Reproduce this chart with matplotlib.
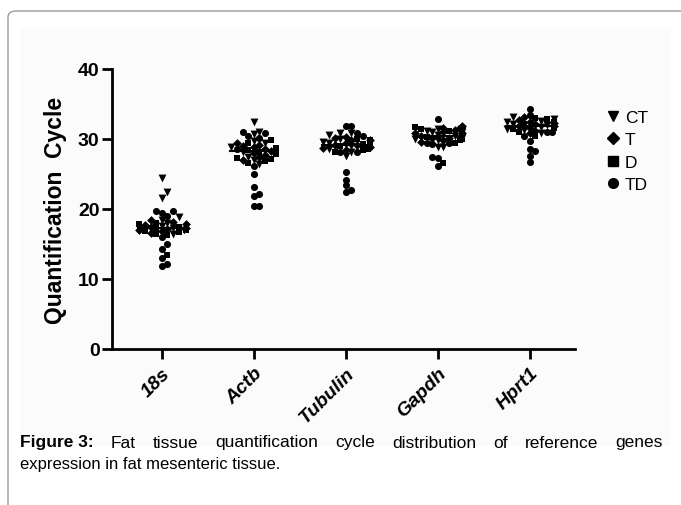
import matplotlib
import matplotlib.pyplot as plt
import numpy as np
from matplotlib.patches import FancyBboxPatch, Rectangle
from matplotlib.lines import Line2D

matplotlib.use('Agg')
plt.rcParams['font.family'] = ['Liberation Sans', 'DejaVu Sans']

genes = ["18s", "Actb", "Tubulin", "Gapdh", "Hprt1"]
groups = ["CT", "T", "D", "TD"]
markers = {"CT": "v", "T": "D", "D": "s", "TD": "o"}
msizes = {"CT": 32, "T": 20, "D": 22, "TD": 26}

# Cq values, per gene and group
ct_vals = [
    [24.5, 22.4, 21.6, 18.5, 18.0, 17.6, 17.3, 17.0, 16.5, 18.8],
    [32.4, 31.0, 30.7, 29.5, 29.7, 28.1, 28.8, 27.5, 26.5, 27.0],
    [30.9, 30.6, 30.9, 30.0, 29.5, 29.0, 28.1, 27.6, 29.6, 28.6],
    [31.5, 31.0, 30.7, 30.4, 30.0, 29.8, 28.9, 28.9, 31.2, 30.6],
    [33.2, 32.8, 32.4, 32.0, 31.7, 31.3, 30.9, 32.6, 31.5, 32.2],
]
t_vals = [
    [18.2, 17.9, 17.7, 17.5, 17.3, 17.1, 16.8, 18.4, 17.0, 16.6],
    [29.5, 29.0, 28.6, 28.3, 28.0, 27.7, 27.4, 27.0, 28.9, 29.2],
    [30.1, 29.8, 29.4, 29.1, 28.8, 28.5, 29.9, 29.2, 28.7, 30.3],
    [31.8, 31.3, 30.9, 30.5, 30.2, 29.9, 29.6, 31.6, 30.8, 30.1],
    [33.1, 32.7, 32.3, 31.9, 31.6, 31.2, 30.8, 32.5, 31.8, 32.1],
]
d_vals = [
    [17.5, 17.2, 16.7, 16.4, 18.0, 17.8, 16.3, 13.5, 17.0, 16.9],
    [29.8, 28.7, 28.2, 27.8, 27.3, 26.9, 26.6, 28.4, 29.4, 27.1],
    [29.7, 29.3, 28.9, 28.4, 30.0, 29.0, 28.6, 29.5, 28.2, 29.8],
    [31.7, 31.1, 30.6, 30.3, 29.9, 29.5, 31.4, 30.8, 30.0, 26.6],
    [33.0, 32.5, 32.1, 31.8, 31.4, 31.0, 30.4, 32.9, 31.6, 32.3],
]
td_vals = [
    [19.7, 19.4, 19.7, 19.0, 16.0, 15.0, 14.3, 13.0, 11.9, 12.1],
    [30.9, 31.0, 30.1, 30.4, 26.1, 25.0, 23.1, 22.1, 21.9, 20.4, 20.4, 28.6],
    [31.9, 31.9, 30.9, 28.1, 28.1, 25.3, 24.2, 23.4, 22.7, 22.4, 30.4],
    [32.9, 31.6, 31.6, 29.4, 29.3, 29.4, 27.3, 26.1, 27.4, 30.7],
    [34.3, 33.4, 31.0, 30.4, 29.7, 28.6, 28.3, 27.6, 26.7, 31.0],
]
data = {"CT": ct_vals, "T": t_vals, "D": d_vals, "TD": td_vals}

fig = plt.figure(figsize=(6.81, 5.06), dpi=100)

# frame around the figure
frame = FancyBboxPatch((8 / 681, -0.1), 1.1, 1.1 - 12 / 506,
                       boxstyle="round,pad=0,rounding_size=0.012",
                       transform=fig.transFigure, fill=False,
                       edgecolor="#9a9a9a", linewidth=1.0, zorder=-2)
panel = Rectangle((20 / 681, 1 - 447 / 506), 650 / 681, 417 / 506,
                  transform=fig.transFigure, facecolor="#fbfbfb",
                  edgecolor="none", zorder=-3)
fig.patches.extend([panel, frame])

ax = fig.add_axes([112 / 681, 1 - 350 / 506, 463 / 681, 280 / 506])
ax.patch.set_alpha(0)
ax.set_ylim(0, 40)
ax.set_xlim(-0.54, 4.49)

# px per unit, used to lay points out as a swarm
px_x = 463 / 5.03
px_y = 7.0
d = 5.6
cap = 24
for gi, gene in enumerate(genes):
    pts = []
    for g in groups:
        for v in data[g][gi]:
            pts.append((v, g))
    pts.sort(key=lambda p: p[0])
    placed = []
    for v, g in pts:
        y = v * px_y
        k = 0
        while True:
            off = ((k + 1) // 2) * d * (1 if k % 2 else -1) if k else 0.0
            if all((off - ox) ** 2 + (y - oy) ** 2 >= d * d for ox, oy in placed) or abs(off) > cap:
                break
            k += 1
        off = max(-cap, min(cap, off))
        placed.append((off, y))
        ax.scatter(gi + off / px_x, v, marker=markers[g], s=msizes[g], color="black",
                   linewidths=0, zorder=3)
    med = np.median([p[0] for p in pts])
    ax.plot([gi - 24 / px_x, gi + 24 / px_x], [med, med], color="black", lw=1.5, zorder=4)

for s in ["top", "right"]:
    ax.spines[s].set_visible(False)
ax.spines["left"].set_linewidth(2)
ax.spines["bottom"].set_linewidth(2)
ax.set_yticks([0, 10, 20, 30, 40])
ax.set_xticks(range(len(genes)))
ax.set_xticklabels(genes, rotation=45, ha="right", rotation_mode="anchor",
                   fontsize=14, fontweight="bold", fontstyle="italic")
ax.tick_params(axis="y", width=2, length=7, labelsize=14, pad=2)
ax.tick_params(axis="x", width=2, length=7, pad=4)
for t in ax.get_yticklabels():
    t.set_fontweight("bold")
ax.set_ylabel("Quantification  Cycle", fontsize=16.5, fontweight="bold", labelpad=8)

handles = [Line2D([], [], marker=markers[g], color="black", linestyle="none",
                  markersize=7 if g != "T" else 6) for g in groups]
ax.legend(handles, groups, loc="upper left", bbox_to_anchor=(1.055, 0.88), frameon=False,
          fontsize=12.5, handlelength=0.6, handletextpad=0.4, labelspacing=0.42,
          borderaxespad=0)

# caption, first line justified
cap_y1 = 1 - 443 / 506
words = "Fat tissue quantification cycle distribution of reference genes".split()
fig.canvas.draw()
r = fig.canvas.get_renderer()
arts = [fig.text(0, cap_y1, "Figure 3:", fontsize=12.5, fontweight="bold", va="center")]
arts += [fig.text(0, cap_y1, w, fontsize=12.5, va="center") for w in words]
widths = [a.get_window_extent(r).width / 681 for a in arts]
start = 20 / 681
end = 663 / 681
gap = (end - start - sum(widths)) / (len(arts) - 1)
x = start
for a, w in zip(arts, widths):
    a.set_x(x)
    x += w + gap
fig.text(20 / 681, 1 - 465 / 506, "expression in fat mesenteric tissue.", fontsize=12, va="center")

fig.savefig("out.png", dpi=100)
